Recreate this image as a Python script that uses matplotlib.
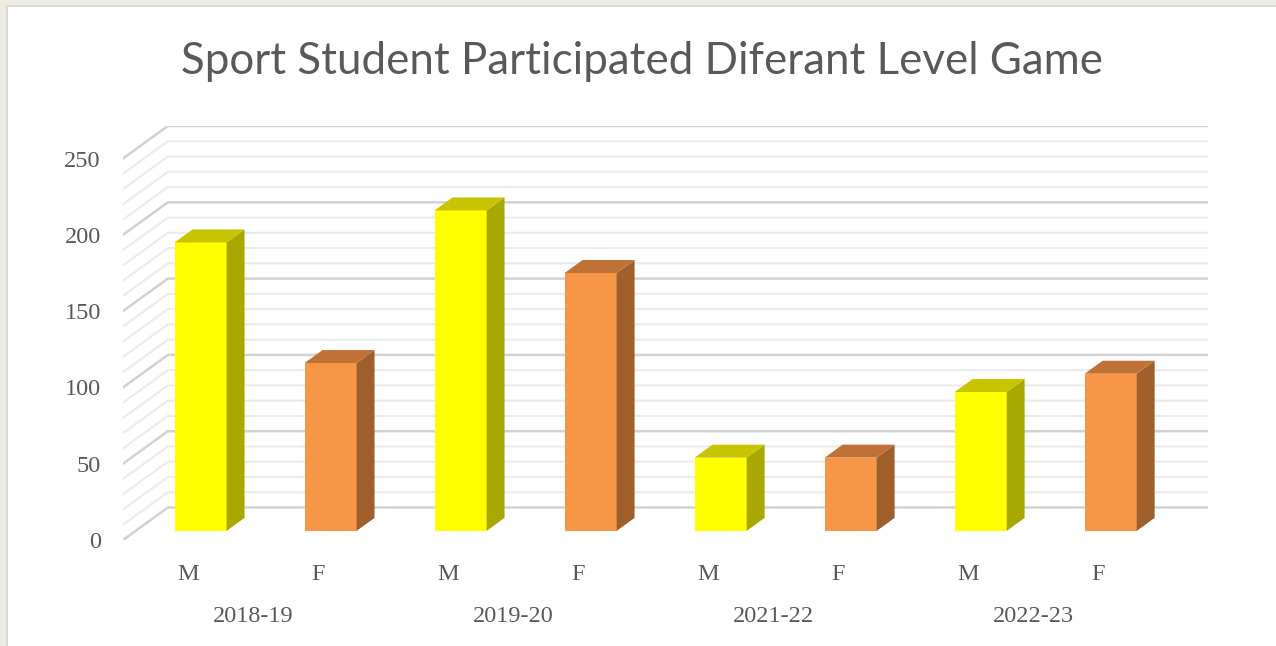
import numpy as np
import matplotlib.pyplot as plt
from matplotlib.patches import Polygon, Rectangle

plt.rcParams['font.family'] = ['Liberation Serif', 'DejaVu Serif']

years = ['2018-19', '2019-20', '2021-22', '2022-23']
sex_labels = ['M', 'F']
male = [189, 210, 48, 91]
female = [110, 169, 48, 103]

# interleave M/F per year
values = []
cats = []
for m, f in zip(male, female):
    values += [m, f]
    cats += sex_labels
xpos = np.arange(len(values))

front_c = {'M': '#FFFF00', 'F': '#F79646'}
side_c = {'M': '#A8A800', 'F': '#9E5F2C'}
top_c = {'M': '#C8C400', 'F': '#C07236'}

# fake 3d (oblique) projection: full depth shift in data units
DX, DY = 0.345, 21.3
D0, D1 = 0.28, 0.68
W = 0.40

fig = plt.figure(figsize=(12.76, 6.46), dpi=100, facecolor='#EEECE1')
fig.add_artist(Rectangle((7/1276, -0.05), 1.0, 640/646 + 0.05, transform=fig.transFigure,
                         facecolor='white', edgecolor='#D9D9D9', lw=1.5, zorder=0))

ax = fig.add_axes([123/1276, 106/646, (1208-123)/1276, (540-126)/646])
ax.set_xlim(-0.5, len(values) - 0.5 + DX)
ax.set_ylim(0, 250 + DY)
ax.patch.set_alpha(0)
for s in ax.spines.values():
    s.set_visible(False)

# walls: side diagonals + back gridlines
for v in range(0, 251, 10):
    major = v % 50 == 0
    c = '#D2D2D2' if major else '#EBEBEB'
    lw = 1.8 if major else 1.5
    ax.plot([-0.5, -0.5 + DX, len(values) - 0.5 + DX], [v, v + DY, v + DY],
            color=c, lw=lw, zorder=1, solid_joinstyle='miter')

# bars
for x, v, c in zip(xpos, values, cats):
    ax.bar(x + D0*DX, v, width=W, bottom=D0*DY, color=front_c[c], zorder=3)
    xr = x + W/2
    xl = x - W/2
    side = [(xr + D0*DX, D0*DY), (xr + D1*DX, D1*DY),
            (xr + D1*DX, v + D1*DY), (xr + D0*DX, v + D0*DY)]
    top = [(xl + D0*DX, v + D0*DY), (xr + D0*DX, v + D0*DY),
           (xr + D1*DX, v + D1*DY), (xl + D1*DX, v + D1*DY)]
    ax.add_patch(Polygon(side, closed=True, facecolor=side_c[c], edgecolor='none', zorder=3))
    ax.add_patch(Polygon(top, closed=True, facecolor=top_c[c], edgecolor='none', zorder=3))

ax.set_yticks(range(0, 251, 50))
ax.tick_params(axis='y', length=0, pad=16, labelsize=17.5, labelcolor='#595959')
ax.set_xticks(xpos, cats)
ax.tick_params(axis='x', length=0, pad=17, labelsize=17.5, labelcolor='#595959')

for i, yr in enumerate(years):
    ax.annotate(yr, xy=(2*i + 0.5, 0), xycoords=('data', 'axes fraction'),
                xytext=(0, -55), textcoords='offset points',
                ha='center', va='center', fontsize=17.5, color='#595959')

fig.text(642/1276, 1 - 61/646, 'Sport Student Participated Diferant Level Game',
         ha='center', va='center', fontsize=31.6, color='#595959', family='Lato')

fig.savefig('out.png', dpi=100, facecolor=fig.get_facecolor())
